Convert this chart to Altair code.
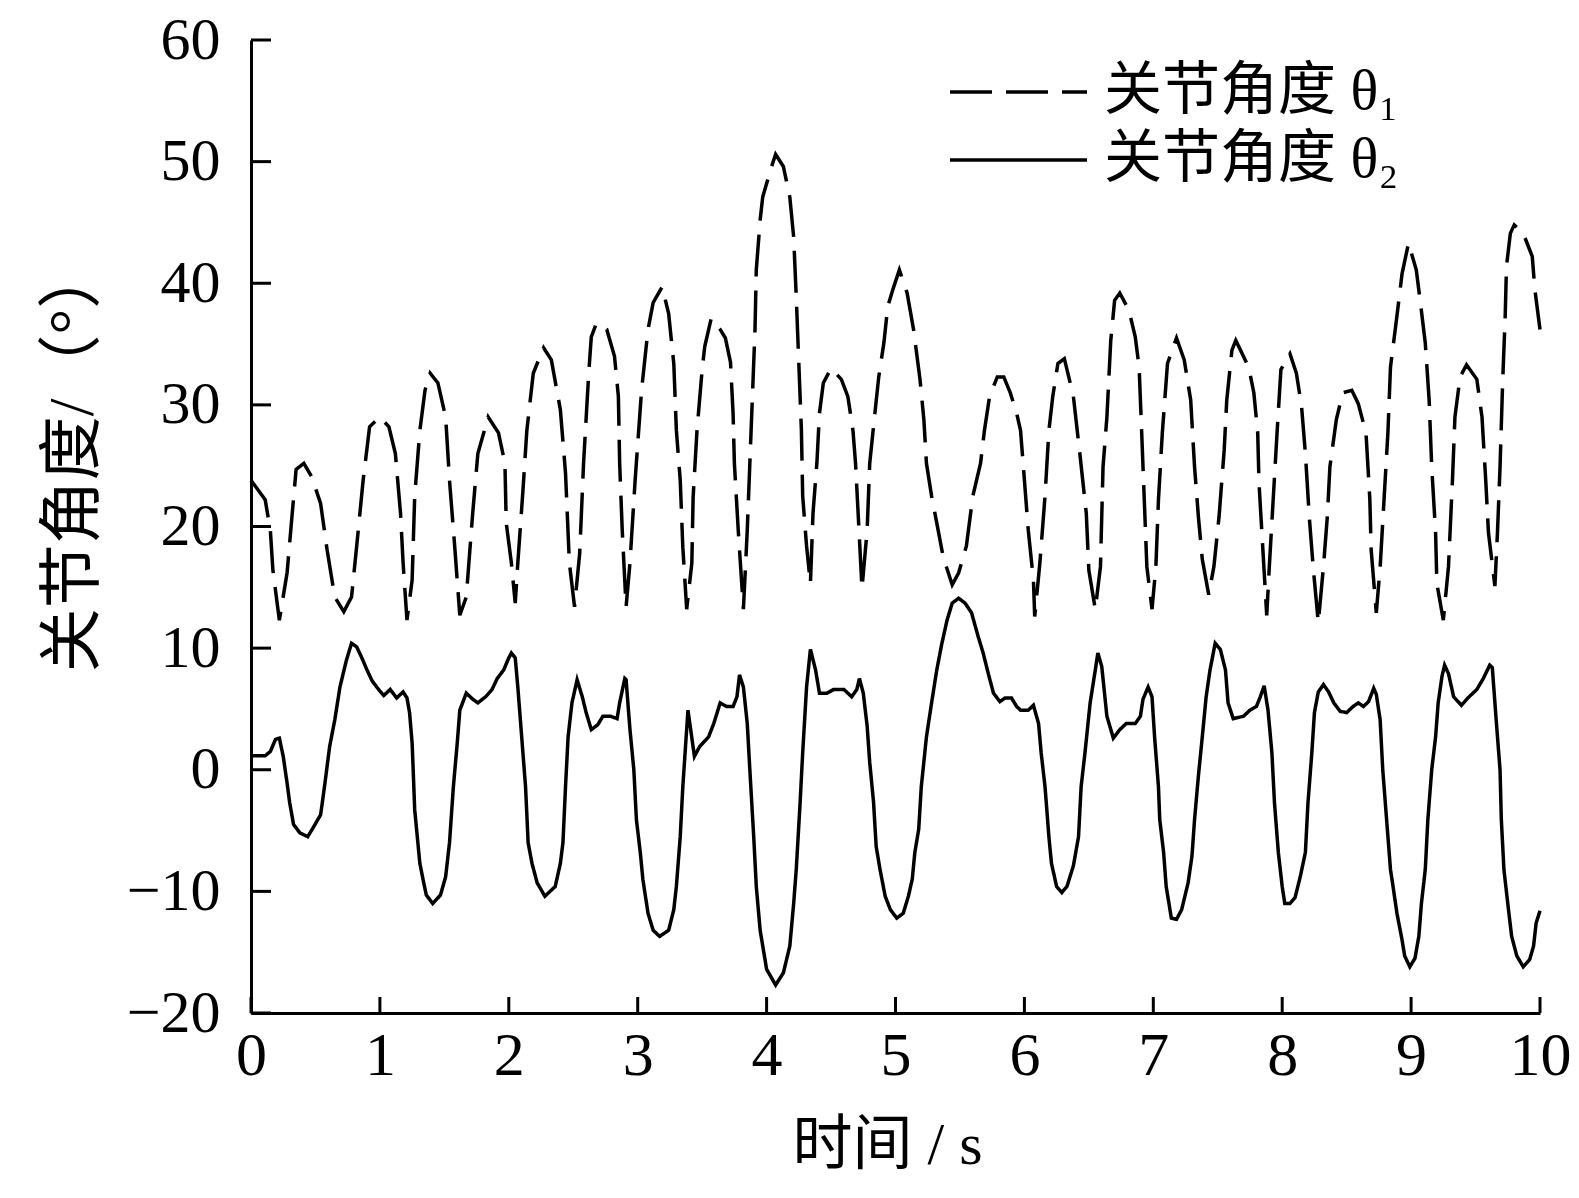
import altair as alt
import pandas as pd

# ---- data ----
series_names = ["关节角度 θ₁", "关节角度 θ₂"]

t1 = [0.00, 0.11, 0.15, 0.17, 0.22, 0.28, 0.32, 0.35, 0.41, 0.47, 0.54, 0.59, 0.65, 0.72, 0.78, 0.82, 0.87, 0.92,
      1.00, 1.07, 1.12, 1.16, 1.18, 1.21, 1.25, 1.27, 1.31, 1.35, 1.39, 1.45, 1.51, 1.54, 1.58, 1.62, 1.67, 1.72,
      1.76, 1.84, 1.92, 1.97, 1.98, 2.02, 2.05, 2.07, 2.11, 2.14, 2.19, 2.27, 2.33, 2.40, 2.44, 2.47, 2.51, 2.55,
      2.58, 2.62, 2.64, 2.68, 2.76, 2.82, 2.85, 2.86, 2.88, 2.91, 2.94, 2.98, 3.03, 3.08, 3.12, 3.19, 3.24, 3.28,
      3.30, 3.33, 3.35, 3.38, 3.42, 3.43, 3.46, 3.50, 3.52, 3.57, 3.64, 3.68, 3.72, 3.74, 3.75, 3.78, 3.82, 3.85,
      3.87, 3.89, 3.91, 3.92, 3.95, 3.97, 4.03, 4.07, 4.13, 4.18, 4.21, 4.23, 4.25, 4.27, 4.28, 4.31, 4.34, 4.36,
      4.39, 4.41, 4.44, 4.50, 4.58, 4.63, 4.67, 4.69, 4.71, 4.74, 4.78, 4.80, 4.84, 4.87, 4.91, 4.94, 4.98, 5.03,
      5.09, 5.14, 5.19, 5.22, 5.24, 5.28, 5.32, 5.37, 5.44, 5.49, 5.55, 5.60, 5.66, 5.69, 5.73, 5.79, 5.84, 5.89,
      5.94, 5.97, 5.99, 6.03, 6.07, 6.08, 6.12, 6.16, 6.19, 6.22, 6.26, 6.31, 6.38, 6.43, 6.48, 6.50, 6.55, 6.59,
      6.61, 6.64, 6.67, 6.70, 6.74, 6.81, 6.86, 6.89, 6.91, 6.93, 6.95, 6.99, 7.02, 7.04, 7.07, 7.11, 7.18, 7.24,
      7.29, 7.32, 7.35, 7.38, 7.43, 7.47, 7.51, 7.55, 7.57, 7.61, 7.64, 7.74, 7.78, 7.81, 7.82, 7.85, 7.88, 7.90,
      7.93, 7.96, 7.99, 8.06, 8.11, 8.15, 8.18, 8.21, 8.24, 8.28, 8.32, 8.35, 8.37, 8.42, 8.47, 8.54, 8.59, 8.65,
      8.68, 8.69, 8.73, 8.76, 8.79, 8.82, 8.84, 8.89, 8.93, 8.98, 9.04, 9.07, 9.11, 9.14, 9.16, 9.19, 9.20, 9.25,
      9.29, 9.32, 9.34, 9.38, 9.43, 9.51, 9.55, 9.58, 9.60, 9.65, 9.67, 9.69, 9.71, 9.73, 9.74, 9.77, 9.80, 9.87,
      9.94, 9.96, 10.00]
a1 = [23.8, 22.2, 19.7, 16.4, 12.3, 16.2, 21.1, 24.7, 25.2, 24.1, 21.9, 18.1, 14.2, 13.0, 14.2, 18.4, 23.8, 28.2,
      29.0, 28.2, 26.0, 21.1, 17.0, 12.3, 15.6, 22.5, 27.9, 31.2, 32.6, 31.8, 29.0, 23.8, 18.4, 12.7, 14.2, 21.1,
      26.0, 29.0, 27.7, 25.2, 20.3, 17.0, 13.7, 17.0, 23.0, 27.9, 32.6, 34.7, 33.7, 29.6, 24.4, 17.0, 13.4, 17.8,
      25.2, 32.6, 35.6, 36.7, 36.2, 34.0, 30.7, 25.2, 19.7, 13.4, 17.0, 23.8, 31.2, 36.2, 38.4, 39.7, 37.5, 33.4,
      27.9, 23.8, 18.3, 13.2, 17.0, 22.4, 27.9, 32.9, 34.8, 37.1, 36.2, 35.5, 33.5, 29.3, 25.2, 19.7, 13.2, 19.7,
      25.2, 30.7, 36.2, 41.1, 45.2, 47.1, 49.3, 50.6, 49.6, 47.1, 43.8, 38.9, 33.4, 27.9, 22.5, 18.4, 15.3, 21.1,
      25.2, 29.3, 31.8, 33.0, 32.1, 30.7, 27.9, 25.2, 21.1, 14.9, 19.7, 25.2, 29.3, 32.3, 35.1, 38.1, 39.5, 41.1,
      39.2, 36.2, 32.1, 28.8, 25.2, 22.5, 20.3, 17.5, 15.2, 16.2, 18.4, 22.5, 25.2, 27.9, 30.7, 32.3, 32.3, 31.0,
      29.3, 27.9, 25.2, 19.7, 15.6, 12.6, 17.0, 22.5, 27.9, 30.7, 33.4, 33.8, 30.7, 26.0, 21.1, 16.4, 13.2, 16.7,
      24.9, 29.0, 35.3, 38.6, 39.2, 37.8, 35.6, 33.1, 27.7, 22.2, 16.7, 13.2, 16.7, 22.2, 27.7, 33.4, 35.5, 33.7,
      30.4, 24.9, 20.8, 17.3, 14.4, 16.7, 20.8, 26.3, 30.4, 34.5, 35.3, 33.1, 31.0, 27.7, 23.6, 18.1, 12.7, 16.7,
      22.2, 27.7, 32.9, 34.2, 32.6, 29.9, 26.0, 20.8, 16.7, 12.1, 16.7, 20.8, 24.9, 28.8, 31.0, 31.2, 30.1, 27.7,
      22.2, 18.1, 12.9, 16.7, 22.2, 27.7, 33.1, 37.3, 40.8, 43.3, 41.1, 38.6, 35.1, 30.4, 24.9, 19.5, 15.3, 12.3,
      16.7, 23.6, 29.0, 32.3, 33.3, 32.1, 29.0, 23.6, 19.5, 15.1, 19.5, 24.9, 31.8, 37.3, 41.4, 44.1, 44.8, 44.1,
      42.2, 39.5, 36.2]

t2 = [0.00, 0.11, 0.15, 0.19, 0.22, 0.25, 0.28, 0.30, 0.33, 0.38, 0.44, 0.48, 0.54, 0.57, 0.61, 0.65, 0.69, 0.74,
      0.78, 0.82, 0.86, 0.90, 0.94, 0.99, 1.03, 1.08, 1.13, 1.18, 1.21, 1.23, 1.25, 1.26, 1.27, 1.29, 1.31, 1.34,
      1.36, 1.41, 1.47, 1.51, 1.54, 1.57, 1.60, 1.62, 1.67, 1.72, 1.76, 1.82, 1.87, 1.91, 1.96, 2.00, 2.02, 2.05,
      2.07, 2.10, 2.13, 2.15, 2.18, 2.22, 2.28, 2.36, 2.40, 2.42, 2.44, 2.46, 2.49, 2.53, 2.57, 2.60, 2.64, 2.69,
      2.73, 2.79, 2.84, 2.86, 2.90, 2.91, 2.94, 2.97, 2.99, 3.02, 3.04, 3.08, 3.12, 3.17, 3.24, 3.28, 3.30, 3.33,
      3.35, 3.39, 3.44, 3.48, 3.55, 3.59, 3.64, 3.69, 3.74, 3.77, 3.79, 3.82, 3.85, 3.87, 3.90, 3.92, 3.95, 4.00,
      4.07, 4.13, 4.18, 4.21, 4.23, 4.26, 4.28, 4.31, 4.34, 4.38, 4.41, 4.47, 4.52, 4.60, 4.66, 4.70, 4.72, 4.75,
      4.78, 4.80, 4.83, 4.85, 4.88, 4.92, 4.96, 5.01, 5.06, 5.10, 5.13, 5.15, 5.18, 5.20, 5.24, 5.28, 5.32, 5.36,
      5.40, 5.44, 5.49, 5.54, 5.59, 5.64, 5.68, 5.72, 5.76, 5.81, 5.85, 5.90, 5.94, 5.97, 6.03, 6.07, 6.11, 6.13,
      6.16, 6.19, 6.21, 6.25, 6.29, 6.33, 6.38, 6.42, 6.44, 6.47, 6.51, 6.55, 6.57, 6.60, 6.64, 6.69, 6.74, 6.79,
      6.86, 6.90, 6.92, 6.96, 6.99, 7.01, 7.04, 7.05, 7.08, 7.10, 7.14, 7.18, 7.22, 7.27, 7.30, 7.32, 7.35, 7.38,
      7.41, 7.44, 7.48, 7.52, 7.56, 7.58, 7.62, 7.70, 7.75, 7.80, 7.83, 7.86, 7.89, 7.92, 7.94, 7.97, 8.00, 8.02,
      8.06, 8.10, 8.14, 8.18, 8.20, 8.23, 8.25, 8.28, 8.32, 8.36, 8.40, 8.45, 8.50, 8.55, 8.59, 8.63, 8.67, 8.71,
      8.73, 8.76, 8.78, 8.81, 8.84, 8.86, 8.89, 8.93, 8.95, 8.99, 9.03, 9.06, 9.08, 9.11, 9.13, 9.16, 9.19, 9.21,
      9.24, 9.26, 9.29, 9.33, 9.39, 9.44, 9.51, 9.56, 9.61, 9.63, 9.66, 9.69, 9.70, 9.72, 9.75, 9.78, 9.82, 9.87,
      9.92, 9.95, 9.97, 10.00]
a2 = [1.15, 1.15, 1.5, 2.5, 2.6, 1.1, -1.1, -2.7, -4.5, -5.2, -5.5, -4.8, -3.7, -1.4, 1.9, 4.1, 6.8, 9.0,
      10.4, 10.1, 9.2, 8.2, 7.3, 6.6, 6.1, 6.6, 5.9, 6.4, 5.9, 4.7, 2.2, -0.5, -3.3, -5.5, -7.7, -9.3,
      -10.3, -11.0, -10.3, -8.8, -6.0, -1.4, 2.2, 4.9, 6.3, 5.8, 5.5, 6.0, 6.6, 7.5, 8.2, 9.2, 9.6, 9.2,
      6.8, 2.7, -1.4, -6.0, -7.7, -9.3, -10.4, -9.6, -7.7, -6.0, -1.4, 2.7, 5.5, 7.4, 6.0, 4.7, 3.3, 3.7,
      4.4, 4.4, 4.2, 5.5, 7.5, 7.4, 3.3, 0.0, -4.1, -6.8, -9.0, -11.8, -13.2, -13.7, -13.2, -11.5, -9.6, -5.5,
      -1.4, 4.9, 1.1, 1.9, 2.7, 3.8, 5.5, 5.2, 5.2, 6.0, 7.8, 6.8, 3.8, 0.0, -5.5, -9.6, -13.2, -16.4,
      -17.7, -16.7, -14.5, -11.0, -8.2, -2.7, 1.4, 6.8, 9.9, 8.2, 6.3, 6.3, 6.6, 6.6, 6.0, 6.6, 7.5, 6.3,
      3.6, 0.6, -2.7, -6.3, -8.2, -10.4, -11.5, -12.2, -11.8, -10.4, -9.0, -6.8, -4.9, -1.4, 2.7, 5.5, 8.2, 10.4,
      12.3, 13.7, 14.1, 13.7, 12.9, 11.0, 9.6, 7.9, 6.3, 5.6, 5.9, 5.9, 5.2, 4.9, 4.9, 5.3, 3.8, 1.4,
      -1.4, -5.5, -7.7, -9.6, -10.1, -9.6, -7.9, -5.5, -1.4, 1.4, 5.5, 8.2, 9.6, 8.5, 4.4, 2.6, 3.3, 3.8,
      3.8, 4.4, 5.8, 6.8, 6.0, 2.7, -1.4, -4.1, -6.8, -9.6, -12.2, -12.3, -11.5, -9.3, -7.1, -4.1, -0.5, 2.7,
      6.0, 8.2, 10.4, 9.9, 8.2, 5.5, 4.2, 4.4, 4.9, 5.2, 6.0, 6.9, 4.9, 1.4, -2.7, -6.8, -9.6, -11.0,
      -11.0, -10.5, -8.8, -6.8, -2.7, 1.4, 4.7, 6.4, 7.0, 6.4, 5.5, 4.8, 4.7, 5.2, 5.5, 5.2, 5.6, 6.7,
      6.2, 4.1, 0.0, -4.1, -8.2, -9.6, -11.8, -14.0, -15.3, -16.2, -15.5, -13.7, -11.0, -8.2, -4.1, 0.0, 2.7, 5.5,
      7.7, 8.6, 7.9, 6.0, 5.3, 5.9, 6.6, 7.5, 8.6, 8.4, 4.1, 0.0, -4.1, -8.2, -11.0, -13.7, -15.3, -16.2,
      -15.6, -14.5, -12.6, -11.6]

x_ticks = list(range(0, 11))
y_ticks = list(range(-20, 61, 10))

df = pd.concat([
    pd.DataFrame({"t": t1, "angle": a1, "series": series_names[0]}),
    pd.DataFrame({"t": t2, "angle": a2, "series": series_names[1]}),
], ignore_index=True)

# ---- layout / style ----
W, H = 1289, 973
FONT = "Liberation Serif, Noto Sans CJK SC"

xscale = alt.Scale(domain=[0, 10], nice=False, zero=False)
yscale = alt.Scale(domain=[-20, 60], nice=False, zero=False)

xaxis = alt.Axis(title="时间 / s", values=x_ticks, ticks=False, tickSize=0, grid=False,
                 labelPadding=12, labelFontSize=62, labelFlush=False, labelFont=FONT,
                 titleFont=FONT, titleFontSize=60, titleFontWeight="normal",
                 titleX=636, titleY=132, titleBaseline="middle",
                 domainWidth=3, domainColor="black", labelColor="black", titleColor="black")
yaxis = alt.Axis(title="关节角度/（°）", values=y_ticks, ticks=False, tickSize=0, grid=False,
                 labelPadding=31, labelFontSize=60, labelFlush=False, labelFont=FONT,
                 titleFont=FONT, titleFontSize=64, titleFontWeight="normal",
                 titleX=-178, titleY=418, titleBaseline="middle", titleAngle=270,
                 domainWidth=3, domainColor="black", labelColor="black", titleColor="black")

lines = alt.Chart(df).mark_line(color="black", strokeWidth=3.5).encode(
    x=alt.X("t:Q", scale=xscale, axis=xaxis),
    y=alt.Y("angle:Q", scale=yscale, axis=yaxis),
    strokeDash=alt.StrokeDash(
        "series:N",
        scale=alt.Scale(domain=series_names, range=[[42, 14], [1, 0]]),
        legend=alt.Legend(title=None, orient="none", legendX=697, legendY=22,
                          symbolType="stroke", symbolSize=18769, symbolStrokeWidth=3.5,
                          symbolStrokeColor="black", labelFont=FONT, labelFontSize=58,
                          labelColor="black", labelOffset=15, clipHeight=60, rowPadding=8,
                          padding=0, labelLimit=0),
    ),
)

xt = alt.Chart(pd.DataFrame({"t": x_ticks})).mark_rule(color="black", strokeWidth=3).encode(
    x=alt.X("t:Q", scale=xscale, axis=xaxis),
    y=alt.value(H),
    y2=alt.value(H - 16),
)

yt = alt.Chart(pd.DataFrame({"angle": y_ticks})).mark_rule(color="black", strokeWidth=3).encode(
    y=alt.Y("angle:Q", scale=yscale, axis=yaxis),
    x=alt.value(0),
    x2=alt.value(20),
)

chart = alt.layer(lines, xt, yt).properties(
    width=W, height=H,
    autosize=alt.AutoSizeParams(type="none"),
    padding={"left": 243, "top": 32, "right": 31, "bottom": 177},
    background="white",
).configure_view(stroke=None)

chart.save("out.html", embed_options={"renderer": "svg", "actions": False})
